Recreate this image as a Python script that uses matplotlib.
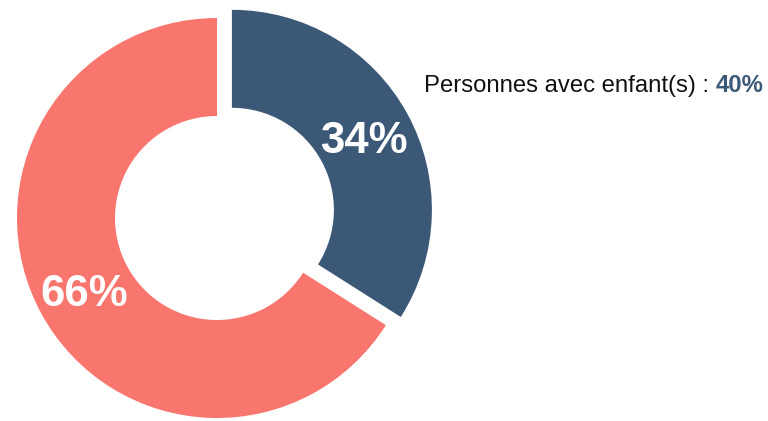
import matplotlib
matplotlib.use("Agg")
import matplotlib.pyplot as plt
import numpy as np

plt.rcParams['font.family'] = ['Liberation Sans', 'DejaVu Sans']

# data
categories = ['Avec enfant(s)', 'Sans enfant']
shares = [34, 66]
colors = ['#3c5877', '#f8766d']
explode = [0.085, 0]
note_label = 'Personnes avec enfant(s) : '
note_value = '40%'

fig = plt.figure(figsize=(7.68, 4.21), dpi=100)
ax = fig.add_axes([17 / 768, 3 / 421, 400 / 768, 400 / 421])

wedges, texts = ax.pie(
    shares,
    colors=colors,
    explode=explode,
    startangle=90,
    counterclock=False,
    radius=1,
    wedgeprops=dict(width=0.49, edgecolor='none'),
)
for w in wedges:
    w.set_clip_on(False)

# percentage labels in the middle of the ring (slightly below centre line)
for w, val, ex in zip(wedges, shares, explode):
    theta = np.deg2rad((w.theta1 + w.theta2) / 2)
    r = 0.755 + ex
    ax.text(r * np.cos(theta), r * np.sin(theta) - 0.02, f"{val}%",
            ha='center', va='center', color='white',
            fontsize=31.5, fontweight='bold')

ax.set_xlim(-1, 1)
ax.set_ylim(-1, 1)
ax.set_aspect('equal')
ax.axis('off')

t1 = fig.text(424 / 768, (421 - 92) / 421, note_label, fontsize=17.2,
              color='#111111', va='baseline', ha='left')
fig.canvas.draw()
bb = t1.get_window_extent(renderer=fig.canvas.get_renderer())
fig.text(bb.x1 / fig.bbox.width, (421 - 92) / 421, note_value, fontsize=17.2,
         color=colors[0], fontweight='bold', va='baseline', ha='left')

fig.savefig('out.png', dpi=100)
